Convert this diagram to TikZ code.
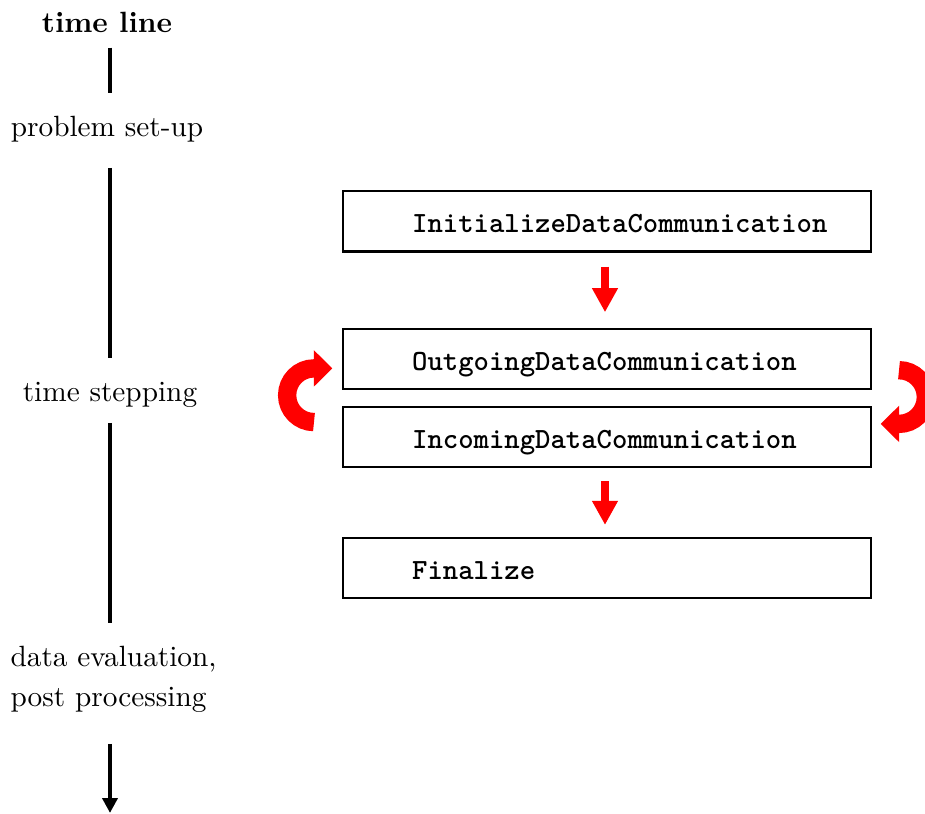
\documentclass[tikz,border=0pt]{standalone}
\usetikzlibrary{arrows.meta}

\begin{document}
\begin{tikzpicture}[x=0.3413pt, y=0.3413pt,
  tltext/.style={inner sep=0pt, anchor=base, font=\rmfamily},
  tlline/.style={line width=1.3pt},
  stepbox/.style={draw, line width=0.7pt, minimum width=180.2pt, minimum height=20.5pt,
    inner xsep=23.6pt, inner ysep=0pt, text height=7.8pt, text depth=0pt,
    font=\ttfamily\bfseries},
  flow/.style={red, line width=2.7pt, -{Triangle[width=8.3pt, length=8.2pt]}},
  loop/.style={red, line width=6.25pt, -{Triangle[width=12pt, length=6.25pt]}}]

  \clip (0,0) rectangle (925,814);

  % time line on the left
  \node[tltext, font=\bfseries] (title) at (107,781.7) {time line};
  \node[tltext] (setup) at (107,677.3) {problem set-up};
  \node[tltext] (stepping) at (110,412.3) {time stepping};
  \node[tltext, anchor=base west] (eval) at (10,147.3) {data evaluation,};
  \node[tltext, anchor=base west] (post) at (10,107.3) {post processing};

  \draw[tlline] ([shift={(3,-15.4)}]title.base) -- ([shift={(3,43.7)}]setup.base);
  \draw[tlline] ([shift={(3,-31.3)}]setup.base) -- ([shift={(0,43.7)}]stepping.base);
  \draw[tlline] ([shift={(0,-21.3)}]stepping.base) -- ([shift={(100,44)}]eval.base west);
  \draw[tlline, -{Triangle[width=5.1pt, length=5.1pt]}]
    ([shift={(100,-37.3)}]post.base west) -- ([shift={(100,-106.3)}]post.base west);

  % communication steps
  \node[stepbox] (init) at (607,592.5) {\makebox[133pt][l]{InitializeDataCommunication}};
  \node[stepbox] (outgoing) at (607,455) {\makebox[133pt][l]{OutgoingDataCommunication}};
  \node[stepbox] (incoming) at (607,377) {\makebox[133pt][l]{IncomingDataCommunication}};
  \node[stepbox] (final) at (607,246) {\makebox[133pt][l]{Finalize}};

  \draw[flow] ([shift={(-2,-14)}]init.south) -- ([shift={(-2,15.7)}]outgoing.north);
  \draw[flow] ([shift={(-2,-13)}]incoming.south) -- ([shift={(-2,12)}]final.north);

  % loop arrows around the stepping pair
  \draw[loop] ([shift={(-28,-32.05)}]outgoing.south west)
    arc[start angle=270, end angle=90, radius=26.85] -- ++(18.3,0);
  \draw[loop] ([shift={(27,19.85)}]outgoing.south east)
    arc[start angle=90, end angle=-90, radius=26.85] -- ++(-18.3,0);
\end{tikzpicture}
\end{document}
